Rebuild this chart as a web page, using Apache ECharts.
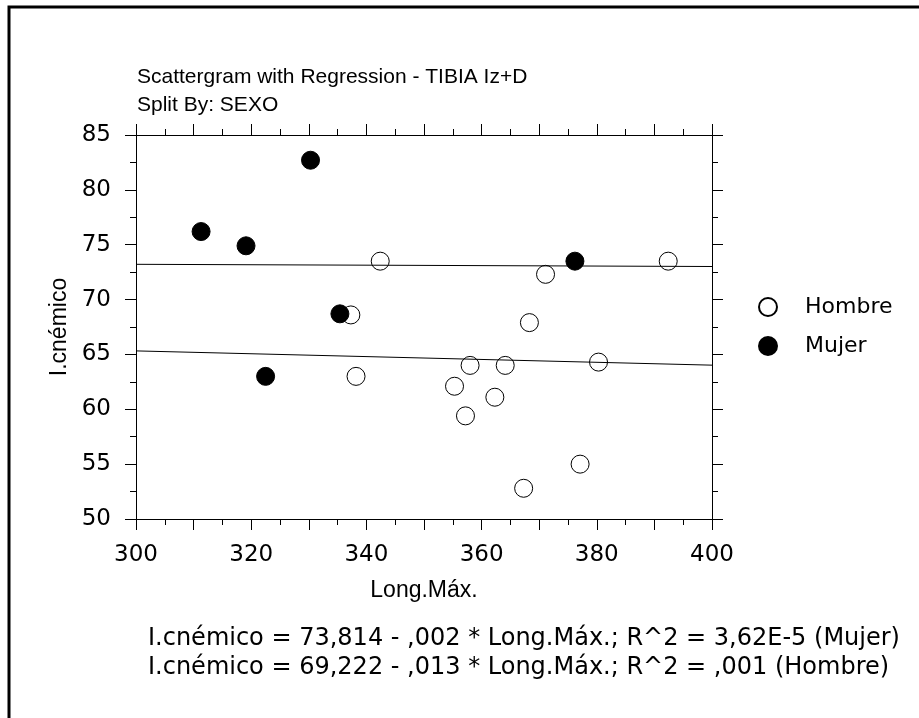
<!DOCTYPE html>
<html>
<head>
<meta charset="utf-8">
<title>Scattergram with Regression - TIBIA Iz+D</title>
<script src="https://cdn.jsdelivr.net/npm/echarts@6/dist/echarts.min.js"></script>
<style>
html, body { margin: 0; padding: 0; background: #fff; }
#main { width: 919px; height: 718px; }
</style>
</head>
<body>
<div id="main"></div>
<script>
// datos (Long.Máx., I.cnémico)
var hombre = [
  [342.4, 73.5], [337.3, 68.6], [338.2, 63.0], [371.1, 72.3], [392.4, 73.5],
  [368.3, 67.9], [358.0, 64.0], [364.1, 64.0], [355.3, 62.1], [362.3, 61.1],
  [357.2, 59.4], [380.3, 64.3], [377.1, 55.0], [367.3, 52.8]
];
var mujer = [
  [311.3, 76.2], [319.1, 74.9], [330.3, 82.7], [335.4, 68.7], [322.5, 63.0], [376.2, 73.5]
];
// coeficientes de regresion (intercepto, pendiente) tal como se imprimen
var regMujer = [73.814, -0.002];
var regHombre = [69.222, -0.013];
var xRange = [300, 400];
var yRange = [50, 85];
var ecuaciones = [
  'I.cnémico = 73,814 - ,002 * Long.Máx.; R^2 = 3,62E-5 (Mujer)',
  'I.cnémico = 69,222 - ,013 * Long.Máx.; R^2 = ,001 (Hombre)'
];

function recta(c) {
  return xRange.map(function (x) { return [x, c[0] + c[1] * x]; });
}

var font = 'DejaVu Sans';
var font2 = 'Liberation Sans';
var myChart = echarts.init(document.getElementById('main'));

function ejeX(pos, labels) {
  return {
    type: 'value', position: pos, min: xRange[0], max: xRange[1], interval: 10,
    axisLine: { show: true, onZero: false, lineStyle: { color: '#000', width: 1 } },
    axisTick: { show: true, length: 11, lineStyle: { color: '#000' } },
    minorTick: { show: true, splitNumber: 2, length: 6, lineStyle: { color: '#000' } },
    splitLine: { show: false },
    axisLabel: {
      show: labels, margin: 25, color: '#000', fontFamily: font, fontSize: 23,
      formatter: function (v) { return v % 20 === 0 ? v : ''; }
    },
    name: labels ? 'Long.Máx.' : '', nameLocation: 'middle', nameGap: 60,
    nameTextStyle: { color: '#000', fontFamily: font2, fontSize: 23 }
  };
}
function ejeY(pos, labels) {
  return {
    type: 'value', position: pos, min: yRange[0], max: yRange[1], interval: 5,
    axisLine: { show: true, onZero: false, lineStyle: { color: '#000', width: 1 } },
    axisTick: { show: true, length: 11, lineStyle: { color: '#000' } },
    minorTick: { show: true, splitNumber: 2, length: 6, lineStyle: { color: '#000' } },
    splitLine: { show: false },
    axisLabel: { show: labels, margin: 25, color: '#000', fontFamily: font, fontSize: 23 },
    name: labels ? 'I.cnémico' : '', nameLocation: 'middle', nameGap: 57,
    nameTextStyle: { color: '#000', fontFamily: font2, fontSize: 23 }
  };
}

var option = {
  backgroundColor: '#fff',
  animation: false,
  title: [
    {
      text: 'Scattergram with Regression - TIBIA Iz+D\nSplit By: SEXO',
      left: 132, top: 58,
      textStyle: { color: '#000', fontFamily: font2, fontSize: 21, fontWeight: 'normal', lineHeight: 28 }
    },
    {
      text: ecuaciones.join('\n'),
      left: 143, top: 619,
      textStyle: { color: '#000', fontFamily: font, fontSize: 24, fontWeight: 'normal', lineHeight: 29 }
    }
  ],
  graphic: [
    { type: 'rect', shape: { x: 9, y: 7, width: 1200, height: 1200 },
      style: { fill: null, stroke: '#000', lineWidth: 3 }, silent: true }
  ],
  legend: {
    orient: 'vertical', left: 753, top: 291, itemWidth: 18, itemHeight: 18, itemGap: 17,
    data: ['Hombre', 'Mujer'],
    textStyle: { color: '#000', fontFamily: font, fontSize: 22, padding: [0, 0, 0, 23] }
  },
  grid: { left: 136, top: 135, right: 207, bottom: 199, containLabel: false },
  xAxis: [ejeX('bottom', true), ejeX('top', false)],
  yAxis: [ejeY('left', true), ejeY('right', false)],
  series: [
    {
      name: 'Hombre', type: 'scatter', symbol: 'circle', symbolSize: 18, data: hombre,
      itemStyle: { color: '#fff', borderColor: '#000', borderWidth: 1, opacity: 1 }, z: 3
    },
    {
      name: 'Mujer', type: 'scatter', symbol: 'circle', symbolSize: 18, data: mujer,
      itemStyle: { color: '#000', borderColor: '#000', borderWidth: 1, opacity: 1 }, z: 3
    },
    {
      type: 'line', data: recta(regMujer), showSymbol: false, symbol: 'none', silent: true,
      lineStyle: { color: '#000', width: 1 }, z: 4
    },
    {
      type: 'line', data: recta(regHombre), showSymbol: false, symbol: 'none', silent: true,
      lineStyle: { color: '#000', width: 1 }, z: 4
    }
  ]
};
myChart.setOption(option);
</script>
</body>
</html>
